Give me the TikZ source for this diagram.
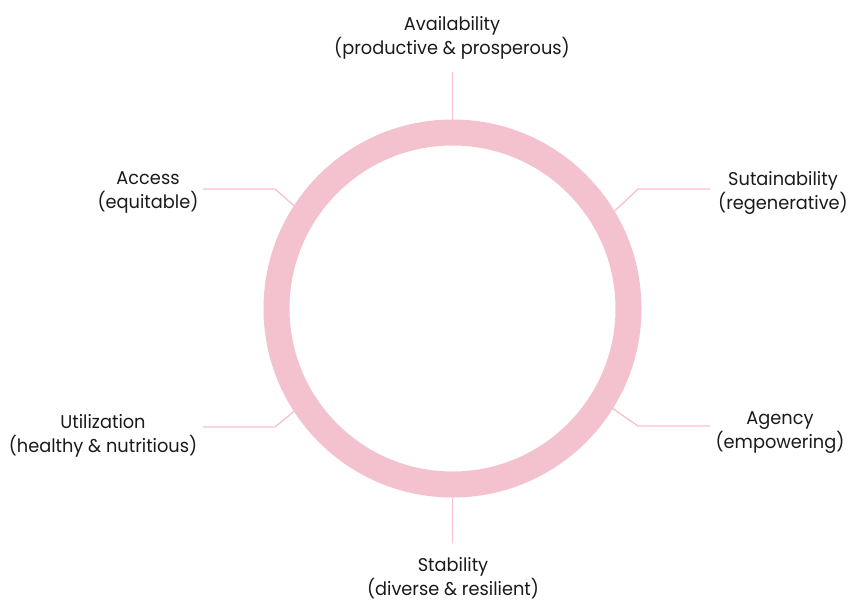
\documentclass[tikz,border=0pt]{standalone}
\usepackage{fontspec}
\setmainfont{Poppins}[FakeStretch=0.96]
\definecolor{ringpink}{HTML}{F4C2CE}
\definecolor{inkdark}{HTML}{1A1A1A}
\begin{document}
\begin{tikzpicture}[x=1pt,y=-1pt,
  label/.style={align=center, inner sep=0pt, text=inkdark,
    font=\fontsize{18.5}{24}\selectfont},
  leader/.style={draw=ringpink, line width=1.3pt}]
\useasboundingbox (0,0) rectangle (848,603);

% the ring
\node[circle, draw=ringpink, line width=26pt, minimum size=352pt, inner sep=0pt]
  (ring) at (452.5,308.5) {};

% labels
\node[label] (avail) at (452,38)  {Availability\\(productive \& prosperous)};
\node[label] (access) at (148,192) {Access\\(equitable)};
\node[label] (sustain) at (783,193) {Sutainability\\(regenerative)};
\node[label] (util) at (103,436) {Utilization\\(healthy \& nutritious)};
\node[label] (agency) at (780,433) {Agency\\(empowering)};
\node[label] (stab) at (453,578) {Stability\\(diverse \& resilient)};

% leader line ends and elbows
\coordinate (availEnd) at (452.5,72);
\coordinate (stabEnd) at (452.5,543);
\coordinate (accessElbow) at (275,189);
\coordinate (accessEnd) at (203,189);
\coordinate (utilElbow) at (275,427);
\coordinate (utilEnd) at (203,427);
\coordinate (sustainElbow) at (638,189);
\coordinate (sustainEnd) at (710,189);
\coordinate (agencyElbow) at (638,426);
\coordinate (agencyEnd) at (710,426);

% leader lines
\draw[leader] (ring.north) -- (availEnd);
\draw[leader] (ring.south) -- (stabEnd);
\draw[leader] (ring.147) -- (accessElbow) -- (accessEnd);
\draw[leader] (ring.213) -- (utilElbow) -- (utilEnd);
\draw[leader] (ring.31) -- (sustainElbow) -- (sustainEnd);
\draw[leader] (ring.-32) -- (agencyElbow) -- (agencyEnd);
\end{tikzpicture}
\end{document}
